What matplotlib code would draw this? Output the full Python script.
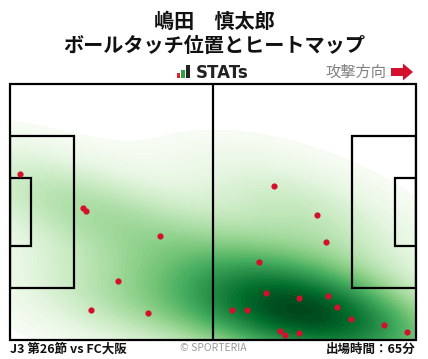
import numpy as np
import matplotlib
matplotlib.use("Agg")
import matplotlib.pyplot as plt
from matplotlib.patches import Rectangle, FancyArrow

plt.rcParams['font.family'] = ['Noto Sans CJK JP', 'DejaVu Sans']

# ---- data (pitch metres, 105 x 68, attacking to the right, y from bottom) ----
touch_x = [2.7, 19.0, 19.7, 38.9, 28.0, 21.0, 35.8, 68.4, 79.5, 81.8, 64.5, 66.3,
           74.8, 82.3, 84.6, 57.5, 61.4, 88.3, 96.8, 102.8, 69.9, 71.2, 74.8]
touch_y = [44.0, 35.0, 34.2, 27.6, 15.6, 7.9, 7.1, 40.8, 33.1, 26.0, 20.6, 12.4,
           11.1, 11.6, 8.7, 7.9, 7.9, 5.5, 3.9, 2.1, 2.3, 1.3, 1.8]

title_name = "嶋田　慎太郎"
title_sub = "ボールタッチ位置とヒートマップ"
match_label = "J3 第26節 vs FC大阪"
minutes_label = "出場時間：65分"
credit = "© SPORTERIA"
direction_label = "攻撃方向"

L, W = 105.0, 68.0

fig = plt.figure(figsize=(4.28, 3.59), dpi=100)
fig.patch.set_facecolor("white")

# pitch axes (pixel box 10..416 x 84..340)
ax = fig.add_axes([10/428, (359-340)/359, 406/428, 256/359])
ax.set_xlim(0, L)
ax.set_ylim(0, W)
ax.axis("off")

# Gaussian KDE (Scott's rule, full covariance) with iso-proportion levels
px = np.array(touch_x)
py = np.array(touch_y)
data = np.vstack([px, py])
n = data.shape[1]
factor = n ** (-1.0 / 6.0) * 1.25
cov = np.cov(data) * factor ** 2
inv = np.linalg.inv(cov)
gx = np.linspace(-30, L + 30, 450)
gy = np.linspace(-30, W + 30, 320)
X, Y = np.meshgrid(gx, gy)
Z = np.zeros_like(X)
for a, b in zip(px, py):
    dx, dy = X - a, Y - b
    m = inv[0, 0] * dx * dx + 2 * inv[0, 1] * dx * dy + inv[1, 1] * dy * dy
    Z += np.exp(-0.5 * m)
Z /= Z.sum()
vals = np.sort(Z.ravel())
cum = np.cumsum(vals)
cum /= cum[-1]
props = np.linspace(0.03, 0.995, 70)
levels = np.unique(np.interp(props, cum, vals))
ax.contourf(X, Y, Z, levels=list(levels) + [Z.max() * 1.01], cmap="Greens", zorder=1)

lw = 1.6
lc = "black"
ax.add_patch(Rectangle((0, 0), L, W, fill=False, lw=lw, ec=lc, zorder=3, clip_on=False))
ax.plot([L/2, L/2], [0, W], color=lc, lw=lw, zorder=3)
pa_d, pa_w = 16.5, 40.32
ga_d, ga_w = 5.5, 18.32
ax.add_patch(Rectangle((0, (W-pa_w)/2), pa_d, pa_w, fill=False, lw=lw, ec=lc, zorder=3))
ax.add_patch(Rectangle((L-pa_d, (W-pa_w)/2), pa_d, pa_w, fill=False, lw=lw, ec=lc, zorder=3))
ax.add_patch(Rectangle((0, (W-ga_w)/2), ga_d, ga_w, fill=False, lw=lw, ec=lc, zorder=3))
ax.add_patch(Rectangle((L-ga_d, (W-ga_w)/2), ga_d, ga_w, fill=False, lw=lw, ec=lc, zorder=3))

ax.scatter(px, py, s=20, color="#d4102c", zorder=4, linewidths=0)

# overlay in pixel coordinates
ov = fig.add_axes([0, 0, 1, 1], zorder=10)
ov.set_xlim(0, 428)
ov.set_ylim(359, 0)
ov.axis("off")
ov.patch.set_alpha(0)

ov.text(214, 21, title_name, ha="center", va="center", fontsize=14.5, fontweight="bold", color="#111111")
ov.text(214, 46, title_sub, ha="center", va="center", fontsize=14.5, fontweight="bold", color="#111111")

# STATs logo
ov.add_patch(Rectangle((177, 73), 3.5, 5, color="#e0202e", lw=0))
ov.add_patch(Rectangle((181.5, 70), 3.5, 8, color="#2aa348", lw=0))
ov.add_patch(Rectangle((186.5, 65), 3.5, 13, color="#222222", lw=0))
ov.text(196, 72.5, "STATs", ha="left", va="center", fontsize=12, fontweight="bold",
        color="#222222", family=["DejaVu Sans"])

ov.text(386, 72, direction_label, ha="right", va="center", fontsize=11, color="#808080")
ov.add_patch(FancyArrow(391, 72, 12, 0, width=8, head_width=17, head_length=10,
                        length_includes_head=False, color="#d4102c", lw=0))

ov.text(10, 349, match_label, ha="left", va="center", fontsize=9, fontweight="bold", color="#111111")
ov.text(213, 348, credit, ha="center", va="center", fontsize=7.5, color="#999999")
ov.text(416, 349, minutes_label, ha="right", va="center", fontsize=9, fontweight="bold", color="#111111")

fig.savefig("out.png", dpi=100, facecolor="white")
